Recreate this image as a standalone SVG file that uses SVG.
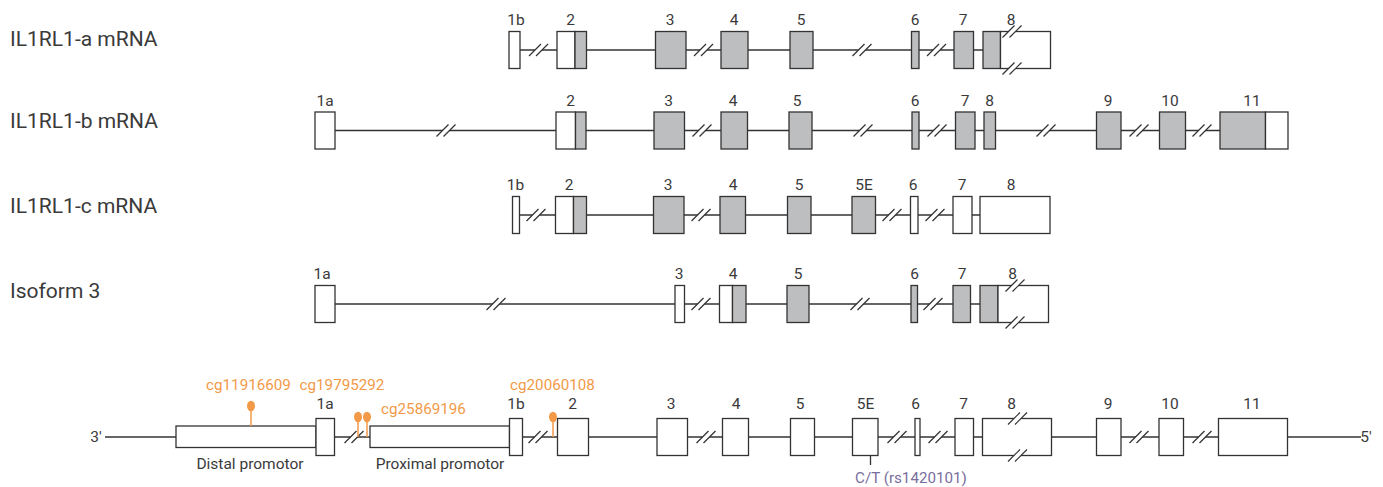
<svg xmlns="http://www.w3.org/2000/svg" xmlns:xlink="http://www.w3.org/1999/xlink" width="1383" height="487" viewBox="0 0 1383 487">
  <style>
    .ln { stroke: #333333; stroke-width: 1.3; fill: none; }
    .ex { fill: #ffffff; stroke: #333333; stroke-width: 1.3; }
    .exg { fill: #bcbec0; stroke: #333333; stroke-width: 1.3; }
    .lbl { font-family: Roboto, "Liberation Sans", sans-serif; font-size: 15.5px; fill: #3a3a3a; text-anchor: middle; }
    .row { font-family: Roboto, "Liberation Sans", sans-serif; font-size: 21px; fill: #3a3a3a; }
    .cg { font-family: Roboto, "Liberation Sans", sans-serif; font-size: 15.2px; fill: #f29a48; text-anchor: middle; }
    .snp { font-family: Roboto, "Liberation Sans", sans-serif; font-size: 15.2px; fill: #7a6e9e; }
    .stem { stroke: #f29a48; stroke-width: 1.5; }
    .head { fill: #f29a48; }
  </style>
  <defs>
    <!-- break mark: two slashes with the line masked between them -->
    <g id="brk">
      <polygon points="-9.5,6 -2.5,6 9.5,-6 2.5,-6" fill="#ffffff"/>
      <line x1="-9.5" y1="6" x2="2.5" y2="-6" stroke="#333333" stroke-width="1.2"/>
      <line x1="-2.5" y1="6" x2="9.5" y2="-6" stroke="#333333" stroke-width="1.2"/>
    </g>
  </defs>

  <!-- transcript names -->
  <g id="row-labels">
    <text class="row" x="10" y="46">IL1RL1-a mRNA</text>
    <text class="row" x="10" y="128.3">IL1RL1-b mRNA</text>
    <text class="row" x="10" y="212.7">IL1RL1-c mRNA</text>
    <text class="row" x="10" y="298">Isoform 3</text>
  </g>

  <!-- IL1RL1-a mRNA -->
  <g id="connectors-a">
    <line class="ln" x1="520" y1="50" x2="983" y2="50"/>
    <use xlink:href="#brk" x="538.5" y="50"/>
    <use xlink:href="#brk" x="703.5" y="50"/>
    <use xlink:href="#brk" x="862" y="50"/>
    <use xlink:href="#brk" x="936.5" y="50"/>
  </g>
  <g id="transcript-a">
    <g id="a-ex1b"><rect class="ex" x="509" y="31.5" width="11" height="37"/><text class="lbl" x="516" y="25">1b</text></g>
    <g id="a-ex2"><rect class="ex" x="557" y="31.5" width="18" height="37"/><rect class="exg" x="575" y="31.5" width="11.5" height="37"/><text class="lbl" x="570.5" y="25">2</text></g>
    <g id="a-ex3"><rect class="exg" x="655.5" y="31.5" width="30.5" height="37"/><text class="lbl" x="670" y="25">3</text></g>
    <g id="a-ex4"><rect class="exg" x="721" y="31.5" width="27" height="37"/><text class="lbl" x="734" y="25">4</text></g>
    <g id="a-ex5"><rect class="exg" x="790" y="31.5" width="23" height="37"/><text class="lbl" x="801" y="25">5</text></g>
    <g id="a-ex6"><rect class="exg" x="911.5" y="31.5" width="7.5" height="37"/><text class="lbl" x="915" y="25">6</text></g>
    <g id="a-ex7"><rect class="exg" x="954" y="31.5" width="19.5" height="37"/><text class="lbl" x="963" y="25">7</text></g>
    <g id="a-ex8">
      <rect class="exg" x="983" y="31.5" width="17.5" height="37"/>
      <rect class="ex" x="1000.5" y="31.5" width="50" height="37"/>
      <use xlink:href="#brk" x="1012" y="31.5"/>
      <use xlink:href="#brk" x="1012" y="68.5"/>
      <text class="lbl" x="1011" y="25">8</text>
    </g>
  </g>

  <!-- IL1RL1-b mRNA -->
  <g id="connectors-b">
    <line class="ln" x1="335" y1="130.5" x2="1220" y2="130.5"/>
    <use xlink:href="#brk" x="446" y="130.5"/>
    <use xlink:href="#brk" x="702" y="130.5"/>
    <use xlink:href="#brk" x="863" y="130.5"/>
    <use xlink:href="#brk" x="937" y="130.5"/>
    <use xlink:href="#brk" x="1046" y="130.5"/>
    <use xlink:href="#brk" x="1139" y="130.5"/>
    <use xlink:href="#brk" x="1202" y="130.5"/>
  </g>
  <g id="transcript-b">
    <g id="b-ex1a"><rect class="ex" x="315" y="112" width="20" height="37"/><text class="lbl" x="325" y="106">1a</text></g>
    <g id="b-ex2"><rect class="ex" x="556" y="112" width="19.5" height="37"/><rect class="exg" x="575.5" y="112" width="10.5" height="37"/><text class="lbl" x="570.5" y="106">2</text></g>
    <g id="b-ex3"><rect class="exg" x="654" y="112" width="30.5" height="37"/><text class="lbl" x="668.5" y="106">3</text></g>
    <g id="b-ex4"><rect class="exg" x="721" y="112" width="26.5" height="37"/><text class="lbl" x="733" y="106">4</text></g>
    <g id="b-ex5"><rect class="exg" x="789" y="112" width="23" height="37"/><text class="lbl" x="797" y="106">5</text></g>
    <g id="b-ex6"><rect class="exg" x="912" y="112" width="7" height="37"/><text class="lbl" x="915" y="106">6</text></g>
    <g id="b-ex7"><rect class="exg" x="955.5" y="112" width="19.5" height="37"/><text class="lbl" x="965" y="106">7</text></g>
    <g id="b-ex8"><rect class="exg" x="984" y="112" width="11.5" height="37"/><text class="lbl" x="989.5" y="106">8</text></g>
    <g id="b-ex9"><rect class="exg" x="1096.5" y="112" width="24.5" height="37"/><text class="lbl" x="1108" y="106">9</text></g>
    <g id="b-ex10"><rect class="exg" x="1159.5" y="112" width="26" height="37"/><text class="lbl" x="1170" y="106">10</text></g>
    <g id="b-ex11"><rect class="exg" x="1220" y="112" width="45.5" height="37"/><rect class="ex" x="1265.5" y="112" width="22.5" height="37"/><text class="lbl" x="1252" y="106">11</text></g>
  </g>

  <!-- IL1RL1-c mRNA -->
  <g id="connectors-c">
    <line class="ln" x1="520" y1="215" x2="980" y2="215"/>
    <use xlink:href="#brk" x="536" y="215"/>
    <use xlink:href="#brk" x="701" y="215"/>
    <use xlink:href="#brk" x="892" y="215"/>
    <use xlink:href="#brk" x="935" y="215"/>
  </g>
  <g id="transcript-c">
    <g id="c-ex1b"><rect class="ex" x="512.5" y="196.5" width="7" height="37"/><text class="lbl" x="515.5" y="190">1b</text></g>
    <g id="c-ex2"><rect class="ex" x="555.5" y="196.5" width="18" height="37"/><rect class="exg" x="573.5" y="196.5" width="13" height="37"/><text class="lbl" x="569" y="190">2</text></g>
    <g id="c-ex3"><rect class="exg" x="653.5" y="196.5" width="30.5" height="37"/><text class="lbl" x="668" y="190">3</text></g>
    <g id="c-ex4"><rect class="exg" x="720" y="196.5" width="25.5" height="37"/><text class="lbl" x="733" y="190">4</text></g>
    <g id="c-ex5"><rect class="exg" x="787.5" y="196.5" width="23.5" height="37"/><text class="lbl" x="799" y="190">5</text></g>
    <g id="c-ex5E"><rect class="exg" x="852" y="196.5" width="23.5" height="37"/><text class="lbl" x="864" y="190">5E</text></g>
    <g id="c-ex6"><rect class="ex" x="910.5" y="196.5" width="7.5" height="37"/><text class="lbl" x="913" y="190">6</text></g>
    <g id="c-ex7"><rect class="ex" x="953" y="196.5" width="19" height="37"/><text class="lbl" x="962" y="190">7</text></g>
    <g id="c-ex8"><rect class="ex" x="980" y="196.5" width="70" height="37"/><text class="lbl" x="1011" y="190">8</text></g>
  </g>

  <!-- Isoform 3 -->
  <g id="connectors-iso3">
    <line class="ln" x1="335" y1="304" x2="980" y2="304"/>
    <use xlink:href="#brk" x="496" y="304"/>
    <use xlink:href="#brk" x="701" y="304"/>
    <use xlink:href="#brk" x="860" y="304"/>
    <use xlink:href="#brk" x="933" y="304"/>
  </g>
  <g id="transcript-iso3">
    <g id="i-ex1a"><rect class="ex" x="315" y="285.5" width="20" height="37"/><text class="lbl" x="322" y="279">1a</text></g>
    <g id="i-ex3"><rect class="ex" x="675" y="285.5" width="9.5" height="37"/><text class="lbl" x="679" y="279">3</text></g>
    <g id="i-ex4"><rect class="ex" x="719.5" y="285.5" width="13" height="37"/><rect class="exg" x="732.5" y="285.5" width="13.5" height="37"/><text class="lbl" x="733" y="279">4</text></g>
    <g id="i-ex5"><rect class="exg" x="787" y="285.5" width="22" height="37"/><text class="lbl" x="798" y="279">5</text></g>
    <g id="i-ex6"><rect class="exg" x="911" y="285.5" width="6.5" height="37"/><text class="lbl" x="914.5" y="279">6</text></g>
    <g id="i-ex7"><rect class="exg" x="953" y="285.5" width="17.5" height="37"/><text class="lbl" x="962" y="279">7</text></g>
    <g id="i-ex8">
      <rect class="exg" x="980" y="285.5" width="18" height="37"/>
      <rect class="ex" x="998" y="285.5" width="50.5" height="37"/>
      <use xlink:href="#brk" x="1015" y="285.5"/>
      <use xlink:href="#brk" x="1015" y="322.5"/>
      <text class="lbl" x="1012.5" y="279">8</text>
    </g>
  </g>

  <!-- genomic locus with promoters and CpG sites -->
  <g id="connectors-locus">
    <line class="ln" x1="105" y1="437" x2="1361" y2="437"/>
    <use xlink:href="#brk" x="354" y="437"/>
    <use xlink:href="#brk" x="538" y="437"/>
    <use xlink:href="#brk" x="706" y="437"/>
    <use xlink:href="#brk" x="897" y="437"/>
    <use xlink:href="#brk" x="938" y="437"/>
    <use xlink:href="#brk" x="1139" y="437"/>
    <use xlink:href="#brk" x="1202" y="437"/>
    <line class="ln" x1="870.5" y1="455.5" x2="870.5" y2="465"/>
  </g>
  <g id="locus">
    <text class="lbl" x="96" y="442">3′</text>
    <text class="lbl" x="1366" y="442">5′</text>
    <g id="distal-promotor">
      <rect class="ex" x="176" y="426" width="140" height="21.5"/>
      <text class="lbl" x="250" y="469">Distal promotor</text>
    </g>
    <g id="l-ex1a"><rect class="ex" x="316" y="418.5" width="18.5" height="37"/><text class="lbl" x="325" y="408.5">1a</text></g>
    <g id="proximal-promotor">
      <rect class="ex" x="370" y="426" width="139.5" height="21.5"/>
      <text class="lbl" x="440" y="469">Proximal promotor</text>
    </g>
    <g id="l-ex1b"><rect class="ex" x="509.5" y="418.5" width="13" height="37"/><text class="lbl" x="516" y="408.5">1b</text></g>
    <g id="l-ex2"><rect class="ex" x="557.5" y="418.5" width="31" height="37"/><text class="lbl" x="572.5" y="408.5">2</text></g>
    <g id="l-ex3"><rect class="ex" x="657" y="418.5" width="30.5" height="37"/><text class="lbl" x="671" y="408.5">3</text></g>
    <g id="l-ex4"><rect class="ex" x="722.5" y="418.5" width="26" height="37"/><text class="lbl" x="736" y="408.5">4</text></g>
    <g id="l-ex5"><rect class="ex" x="790.5" y="418.5" width="24" height="37"/><text class="lbl" x="800" y="408.5">5</text></g>
    <g id="l-ex5E"><rect class="ex" x="852.5" y="418.5" width="25.5" height="37"/><text class="lbl" x="865.5" y="408.5">5E</text></g>
    <g id="l-ex6"><rect class="ex" x="915" y="418.5" width="5" height="37"/><text class="lbl" x="915.5" y="408.5">6</text></g>
    <g id="l-ex7"><rect class="ex" x="955" y="418.5" width="18.5" height="37"/><text class="lbl" x="963.5" y="408.5">7</text></g>
    <g id="l-ex8">
      <rect class="ex" x="982.5" y="418.5" width="69" height="37"/>
      <use xlink:href="#brk" x="1017.5" y="418.5"/>
      <use xlink:href="#brk" x="1017.5" y="455.5"/>
      <text class="lbl" x="1011.5" y="408.5">8</text>
    </g>
    <g id="l-ex9"><rect class="ex" x="1096.5" y="418.5" width="24.5" height="37"/><text class="lbl" x="1108" y="408.5">9</text></g>
    <g id="l-ex10"><rect class="ex" x="1159" y="418.5" width="24.5" height="37"/><text class="lbl" x="1170" y="408.5">10</text></g>
    <g id="l-ex11"><rect class="ex" x="1218.5" y="418.5" width="69" height="37"/><text class="lbl" x="1252" y="408.5">11</text></g>
    <text class="snp" x="855" y="483">C/T (rs1420101)</text>
  </g>

  <!-- CpG probes -->
  <g id="cpg-sites">
    <g id="cg11916609">
      <line class="stem" x1="251" y1="406" x2="251" y2="426"/>
      <ellipse class="head" cx="251" cy="406" rx="4" ry="5.2"/>
      <text class="cg" x="248.5" y="390">cg11916609</text>
    </g>
    <g id="cg19795292">
      <line class="stem" x1="358" y1="417" x2="358" y2="437"/>
      <line class="stem" x1="367" y1="417" x2="367" y2="437"/>
      <ellipse class="head" cx="358" cy="417" rx="4" ry="5.2"/>
      <ellipse class="head" cx="367" cy="417" rx="4" ry="5.2"/>
      <text class="cg" x="342" y="390">cg19795292</text>
    </g>
    <text class="cg" x="423.5" y="414">cg25869196</text>
    <g id="cg20060108">
      <line class="stem" x1="553" y1="417" x2="553" y2="437"/>
      <ellipse class="head" cx="553" cy="417" rx="4" ry="5.2"/>
      <text class="cg" x="552.5" y="390">cg20060108</text>
    </g>
  </g>
</svg>
